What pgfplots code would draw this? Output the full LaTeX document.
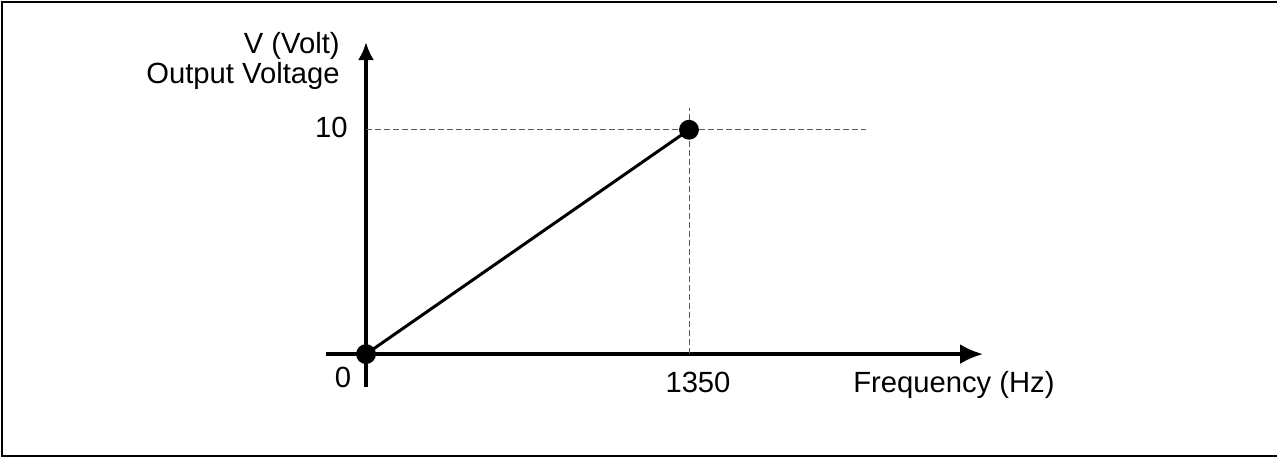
\documentclass[border=0pt]{standalone}
\usepackage{fontspec}
\setmainfont{Liberation Sans}
\usepackage{pgfplots}
\pgfplotsset{compat=1.18}
\usetikzlibrary{arrows.meta}
\tikzset{lbl/.style={font=\fontsize{14.6pt}{17pt}\selectfont, inner sep=0pt}}

\begin{document}
\begin{tikzpicture}
  % page size: 1277 x 457 px at 0.5pt per px
  \useasboundingbox (0,0) rectangle (638.5pt,228.5pt);
  \draw[line width=1pt] (650pt,0.75pt) -- (1pt,0.75pt) -- (1pt,227.5pt) -- (650pt,227.5pt);

  \begin{axis}[
      at={(163pt,35pt)}, anchor=south west,
      scale only axis,
      width=328.5pt, height=172.5pt,
      xmin=-167.2, xmax=2578.8,
      ymin=-1.467, ymax=13.91,
      axis lines=middle,
      axis line style={line width=1.7pt},
      x axis line style={-{Latex[length=11.5pt,width=10pt]}},
      y axis line style={-{Latex[length=9pt,width=8pt]}},
      xtick=\empty, ytick=\empty,
      clip=false,
    ]
    % guide lines
    \addplot[color=black!65, line width=0.5pt, dash pattern=on 3pt off 1.5pt]
      coordinates {(0,10) (2089.8,10)};
    \addplot[color=black!65, line width=0.5pt, dash pattern=on 3pt off 1.5pt]
      coordinates {(1350,0) (1350,10.98)};

    % output voltage vs frequency
    \addplot[black, line width=1.5pt, mark=*, mark size=4.2pt]
      coordinates {(0,0) (1350,10)};

    % labels
    \node[lbl, anchor=base] at (axis cs:-96,-1.467) {0};
    \node[lbl, anchor=base] at (axis cs:1387.6,-1.711) {1350};
    \node[lbl, anchor=base west] at (axis cs:2035.4,-1.733) {Frequency (Hz)};
    \node[lbl, anchor=base east] at (axis cs:-75.2,9.644) {10};
    \node[lbl, anchor=base east] at (axis cs:-108.7,13.42) {V (Volt)};
    \node[lbl, anchor=base east] at (axis cs:-108.7,12.04) {Output Voltage};
  \end{axis}
\end{tikzpicture}
\end{document}
